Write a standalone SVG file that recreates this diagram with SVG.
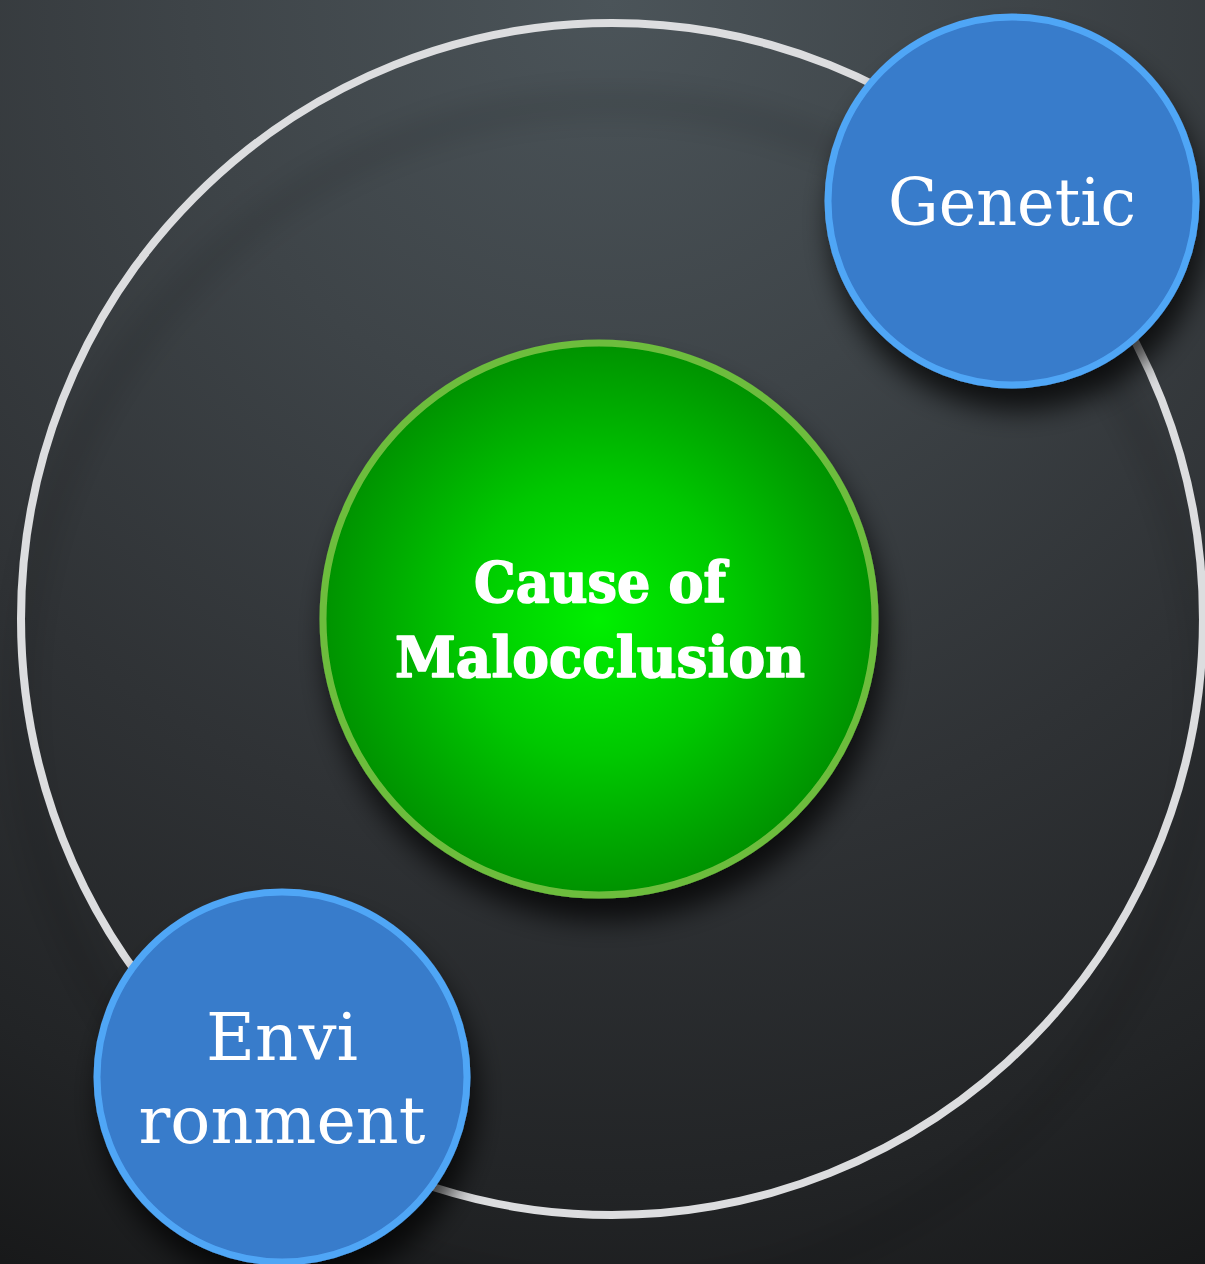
<svg xmlns="http://www.w3.org/2000/svg" width="1205" height="1264" viewBox="0 0 1205 1264">
  <defs>
    <radialGradient id="bg" cx="610" cy="0" r="1400" gradientUnits="userSpaceOnUse">
      <stop offset="0" stop-color="#4b5459"/>
      <stop offset="0.3" stop-color="#3e4448"/>
      <stop offset="0.6" stop-color="#2f3235"/>
      <stop offset="0.85" stop-color="#222426"/>
      <stop offset="1" stop-color="#18191a"/>
    </radialGradient>
    <radialGradient id="greenFill" cx="0.5" cy="0.5" r="0.5">
      <stop offset="0" stop-color="#00f000"/>
      <stop offset="0.5" stop-color="#00c800"/>
      <stop offset="1" stop-color="#009200"/>
    </radialGradient>
    <filter id="shadow" x="-30%" y="-30%" width="160%" height="160%">
      <feGaussianBlur in="SourceAlpha" stdDeviation="14"/>
      <feOffset dx="6" dy="22" result="b"/>
      <feComponentTransfer><feFuncA type="linear" slope="0.75"/></feComponentTransfer>
      <feMerge><feMergeNode/><feMergeNode in="SourceGraphic"/></feMerge>
    </filter>
    <filter id="ringShadow" x="-15%" y="-15%" width="130%" height="130%">
      <feGaussianBlur in="SourceAlpha" stdDeviation="16"/>
      <feOffset dx="0" dy="80" result="b"/>
      <feComponentTransfer><feFuncA type="linear" slope="0.35"/></feComponentTransfer>
      <feMerge><feMergeNode/><feMergeNode in="SourceGraphic"/></feMerge>
    </filter>
    <style>
      .ring { fill: none; stroke: #dcdddf; stroke-width: 8; }
      .blue { fill: #387bcb; stroke: #50a6f6; stroke-width: 7; }
      .green { fill: url(#greenFill); stroke: #6dbd3e; stroke-width: 7; }
      .lbl { fill: #ffffff; font-family: "DejaVu Serif", "Liberation Serif", serif; text-anchor: middle; }
      .big { font-size: 66px; }
      .center { font-size: 56px; font-weight: bold; stroke: #ffffff; stroke-width: 1.6; stroke-linejoin: round; }
    </style>
  </defs>

  <!-- backdrop -->
  <rect x="0" y="0" width="1205" height="1264" fill="url(#bg)"/>

  <!-- orbit ring linking the factors -->
  <g id="connectors">
    <ellipse class="ring" cx="612" cy="619" rx="591" ry="596" filter="url(#ringShadow)"/>
  </g>

  <g id="node-center" filter="url(#shadow)">
    <circle class="green" cx="599" cy="619" r="276"/>
    <text class="lbl center" x="600" y="602" textLength="252" lengthAdjust="spacingAndGlyphs">Cause of</text>
    <text class="lbl center" x="600" y="677" textLength="410" lengthAdjust="spacingAndGlyphs">Malocclusion</text>
  </g>

  <g id="node-genetic" filter="url(#shadow)">
    <circle class="blue" cx="1012" cy="201" r="184"/>
    <text class="lbl big" x="1012" y="225" textLength="248" lengthAdjust="spacingAndGlyphs">Genetic</text>
  </g>

  <g id="node-environment" filter="url(#shadow)">
    <circle class="blue" cx="282" cy="1077" r="185"/>
    <text class="lbl big" x="282" y="1060" textLength="152" lengthAdjust="spacingAndGlyphs">Envi</text>
    <text class="lbl big" x="282" y="1143" textLength="287" lengthAdjust="spacingAndGlyphs">ronment</text>
  </g>
</svg>
